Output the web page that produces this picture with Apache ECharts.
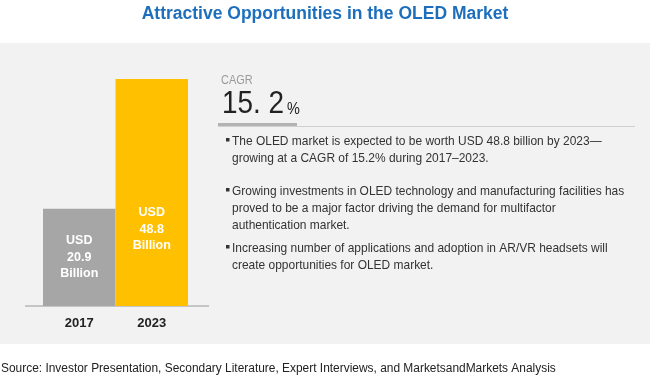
<!DOCTYPE html>
<html>
<head>
<meta charset="utf-8">
<script src="https://cdn.jsdelivr.net/npm/echarts@6/dist/echarts.min.js"></script>
<style>
html,body{margin:0;padding:0;background:#fff;}
#main{width:650px;height:380px;}
</style>
</head>
<body>
<div id="main"></div>
<script>
var titleText = 'Attractive Opportunities in the OLED Market';
var years = ['2017', '2023'];
var values = [20.9, 48.8];
var barColors = ['#a6a6a6', '#ffc000'];
var cagrLabel = 'CAGR';
var cagrValue = '15. 2';
var bullets = [
  'The OLED market is expected to be worth USD 48.8 billion by 2023\u2014\ngrowing at a CAGR of 15.2% during 2017\u20132023.',
  'Growing investments in OLED technology and manufacturing facilities has\nproved to be a major factor driving the demand for multifactor\nauthentication market.',
  'Increasing number of applications and adoption in AR/VR headsets will\ncreate opportunities for OLED market.'
];
var sourceText = 'Source: Investor Presentation, Secondary Literature, Expert Interviews, and MarketsandMarkets Analysis';

var FN = '"Liberation Sans", Arial, sans-serif';
var chart = echarts.init(document.getElementById('main'));

function txt(x, y, text, font, fill, sx, extra) {
  var st = {text:text, font:font, fill:fill, textVerticalAlign:'top'};
  if (extra) for (var k in extra) st[k] = extra[k];
  return {type:'text', x:x, y:y, scaleX:sx || 1, silent:true, style:st};
}

var bulletTops = [133, 183, 240];
var graphics = [
  {type:'rect', silent:true, z:-10, shape:{x:0,y:43,width:650,height:301}, style:{fill:'#f2f2f2'}},
  {type:'line', silent:true, shape:{x1:25,y1:306,x2:209,y2:306}, style:{stroke:'#999999',lineWidth:1.2}},
  {type:'text', left:'center', top:5, silent:true, style:{text:titleText, font:'bold 17.5px ' + FN, fill:'#1d6fbd'}},
  txt(221, 74, cagrLabel, '13px ' + FN, '#9a9a9a', 0.84),
  txt(222, 89, cagrValue, '31px ' + FN, '#222222', 0.9),
  txt(287, 101, '%', '17px ' + FN, '#222222', 0.85),
  {type:'rect', silent:true, shape:{x:218,y:123,width:79,height:4}, style:{fill:'#b3b3b3'}},
  {type:'line', silent:true, shape:{x1:218,y1:126.5,x2:635,y2:126.5}, style:{stroke:'#d0d0d0',lineWidth:1}},
  txt(1, 362, sourceText, '12.5px ' + FN, '#222222', 0.954)
];
bullets.forEach(function(t, i){
  graphics.push({type:'rect', silent:true, shape:{x:226,y:bulletTops[i]+5,width:3.5,height:3.5}, style:{fill:'#333333'}});
  graphics.push(txt(232, bulletTops[i], t, '13px ' + FN, '#333333', 0.92, {lineHeight:17}));
});

chart.setOption({
  animation:false,
  grid:{left:43, right:462, top:79, bottom:74},
  xAxis:{type:'category', data:years, axisLine:{show:false}, axisTick:{show:false},
    axisLabel:{margin:11, color:'#222', fontFamily:FN, fontWeight:'bold', fontSize:13}},
  yAxis:{type:'value', min:0, max:'dataMax', show:false, splitLine:{show:false}},
  series:[{
    type:'bar', barCategoryGap:'0%', barWidth:'100%',
    data: values.map(function(v,i){
      return {value:v, itemStyle:{color:barColors[i]},
        label:{offset:[0, i===1 ? 37 : 0]}};
    }),
    label:{show:true, position:'inside', color:'#ffffff', fontFamily:FN, fontWeight:'bold', fontSize:12.5, lineHeight:16.5,
      formatter:function(p){ return 'USD\n' + p.value.toFixed(1) + '\nBillion'; }}
  }],
  graphic:graphics
});
</script>
</body>
</html>
